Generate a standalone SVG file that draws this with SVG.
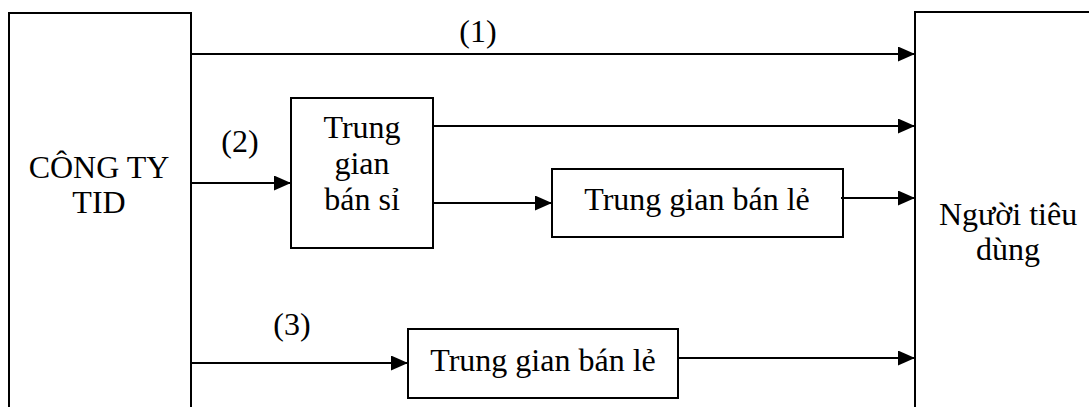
<svg xmlns="http://www.w3.org/2000/svg" width="1089" height="407" viewBox="0 0 1089 407">
<style>
.box{fill:#fff;stroke:#000;stroke-width:2}
.ln{fill:none;stroke:#000;stroke-width:2}
.lbl{font-family:'Liberation Serif','Times New Roman',serif;font-size:32px;fill:#000;text-anchor:middle}
</style>
<defs>
<marker id="ah" viewBox="0 0 17 15" refX="17" refY="7.5" markerWidth="17" markerHeight="15" markerUnits="userSpaceOnUse" orient="auto">
<path d="M0,0 L17,7.5 L0,15 Z" fill="#000"/>
</marker>
</defs>
<rect width="1089" height="407" fill="#fff"/>
<g id="cong-ty">
<rect class="box" x="9" y="13" width="182" height="410"/>
<text class="lbl" x="99" y="178">CÔNG TY</text>
<text class="lbl" x="99" y="213">TID</text>
</g>
<g id="nguoi-tieu-dung">
<rect class="box" x="915" y="12" width="200" height="420"/>
<text class="lbl" x="1008" y="225">Người tiêu</text>
<text class="lbl" x="1008" y="260">dùng</text>
</g>
<g id="ban-si">
<rect class="box" x="291" y="98" width="142" height="150"/>
<text class="lbl" x="362" y="138">Trung</text>
<text class="lbl" x="362" y="174">gian</text>
<text class="lbl" x="362" y="210">bán sỉ</text>
</g>
<g id="ban-le-1">
<rect class="box" x="552" y="169" width="291" height="68"/>
<text class="lbl" x="697" y="210">Trung gian bán lẻ</text>
</g>
<g id="ban-le-2">
<rect class="box" x="408" y="329" width="270" height="69"/>
<text class="lbl" x="543" y="371">Trung gian bán lẻ</text>
</g>
<g id="connectors">
<line class="ln" x1="191" y1="54" x2="915" y2="54" marker-end="url(#ah)"/>
<line class="ln" x1="433" y1="126" x2="915" y2="126" marker-end="url(#ah)"/>
<line class="ln" x1="191" y1="183" x2="291" y2="183" marker-end="url(#ah)"/>
<line class="ln" x1="433" y1="203" x2="552" y2="203" marker-end="url(#ah)"/>
<line class="ln" x1="841" y1="198" x2="915" y2="198" marker-end="url(#ah)"/>
<line class="ln" x1="191" y1="363" x2="408" y2="363" marker-end="url(#ah)"/>
<line class="ln" x1="678" y1="358" x2="915" y2="358" marker-end="url(#ah)"/>
<text class="lbl" x="478" y="42">(1)</text>
<text class="lbl" x="240" y="152">(2)</text>
<text class="lbl" x="292" y="335">(3)</text>
</g>
</svg>
